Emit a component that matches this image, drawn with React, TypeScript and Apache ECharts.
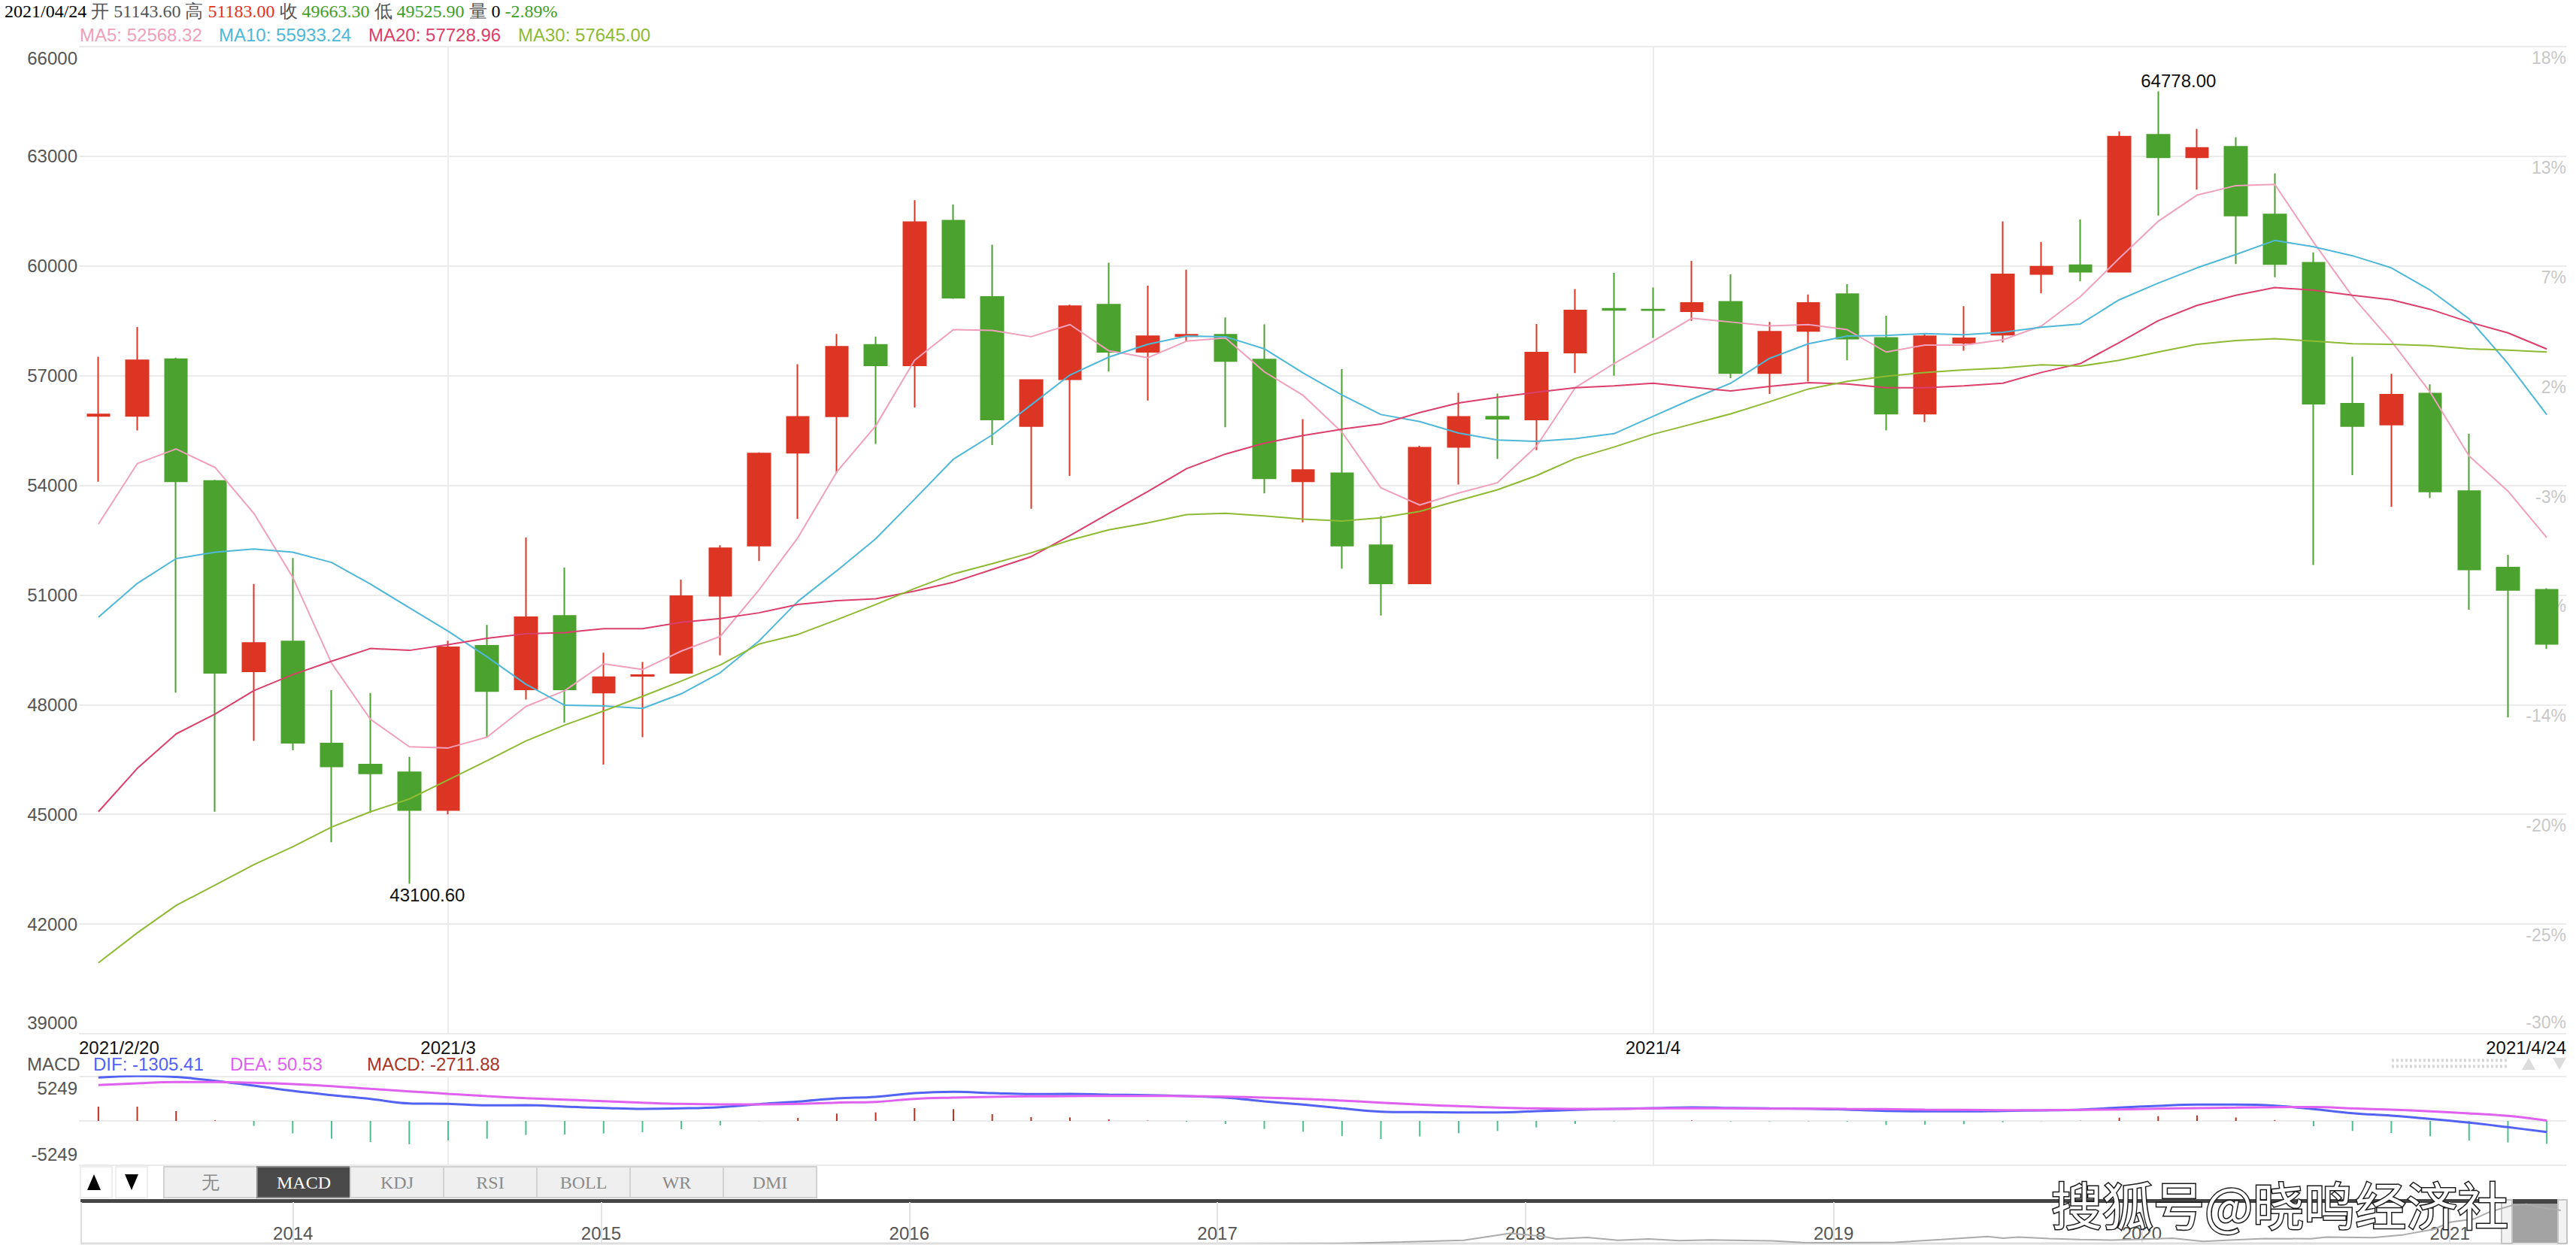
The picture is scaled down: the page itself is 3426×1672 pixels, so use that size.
import React, { useEffect, useRef } from 'react';
import * as echarts from 'echarts';

// [open, close, low, high]
const ohlc: number[][] = [
  [55900, 55940, 54100, 57520], [55900, 57420, 55500, 58330], [57450, 54110, 48330, 57490], [54120, 48870, 45070, 54150],
  [48910, 49690, 47010, 51300], [49730, 46960, 46750, 52010], [46940, 46310, 44240, 48400], [46360, 46120, 45040, 48320],
  [46150, 45120, 43100.6, 46570], [45120, 49570, 45000, 49750], [49610, 48370, 47100, 50180], [48420, 50390, 48140, 52570],
  [50430, 48420, 47510, 51750], [48330, 48750, 46360, 49420], [48790, 48810, 47110, 49170], [48870, 50970, 48850, 51420],
  [50980, 52280, 49350, 52360], [52350, 54870, 51930, 54900], [54890, 55870, 53080, 57310], [55890, 57790, 54330, 58140],
  [57840, 57280, 55130, 58070], [57280, 61200, 56130, 61800], [61240, 59130, 59100, 61680], [59150, 55800, 55100, 60580],
  [55620, 56880, 53360, 56900], [56900, 58900, 54260, 58940], [58940, 57650, 57110, 60090], [57650, 58080, 56320, 59460],
  [58080, 58120, 57940, 59900], [58120, 57400, 55590, 58590], [57440, 54190, 53780, 58400], [54110, 54420, 52990, 55810],
  [54330, 52350, 51720, 57180], [52360, 51320, 50440, 53160], [51320, 55030, 51300, 55080], [55050, 55870, 54020, 56530],
  [55880, 55820, 54720, 56510], [55800, 57630, 54960, 58410], [57630, 58780, 57070, 59370], [58830, 58800, 57000, 59810],
  [58810, 58790, 58030, 59410], [58760, 58990, 58500, 60140], [59020, 57070, 56930, 59770], [57070, 58200, 56500, 58470],
  [58220, 58990, 56840, 59220], [59230, 58010, 57420, 59500], [58030, 55960, 55500, 58640], [55960, 58080, 55730, 58140],
  [57900, 58020, 57680, 58900], [58120, 59770, 57910, 61220], [59780, 59980, 59250, 60660], [60020, 59840, 59580, 61270],
  [59840, 63540, 59830, 63680], [63590, 62970, 61380, 64778], [62970, 63230, 62090, 63750], [63260, 61380, 60050, 63520],
  [61410, 60050, 59690, 62530], [60090, 56230, 51820, 60370], [56230, 55620, 54280, 57520], [55660, 56480, 53410, 57050],
  [56510, 53830, 53650, 56760], [53840, 51700, 50600, 55410], [51750, 51140, 47650, 52100], [51143.6, 49663.3, 49525.9, 51183],
];

const ma5 = [52937, 54594, 54995, 54490, 53234, 51490, 49136, 47601, 46851, 46816, 47113, 47950, 48386, 49118, 48961, 49467,
  49868, 51141, 52571, 54367, 55623, 57419, 58256, 58239, 58065, 58396, 57681, 57489, 57943, 58030, 57106, 56460,
  55450, 53932, 53461, 53792, 54071, 55065, 56670, 57332, 57943, 58571, 58466, 58361, 58396, 58256, 57646, 57838,
  57838, 57978, 58361, 59164, 60210, 61221, 61937, 62198, 62233, 60646, 59164, 57943, 56547, 54803, 53844, 52568.32];
const ma10 = [50391, 51316, 51996, 52170, 52257, 52170, 51891, 51298, 50653, 50008, 49310, 48560, 47985, 47967, 47898, 48299,
  48874, 49746, 50827, 51664, 52536, 53618, 54716, 55379, 56199, 57018, 57507, 57856, 58082, 58065, 57734, 57071,
  56470, 55937, 55745, 55431, 55239, 55204, 55274, 55414, 55885, 56356, 56792, 57472, 57873, 58082, 58100, 58152,
  58117, 58187, 58326, 58413, 59076, 59530, 59948, 60315, 60698, 60524, 60280, 59948, 59338, 58553, 57332, 55933.24];
const ma20 = [45072, 46258, 47200, 47740, 48386, 48822, 49188, 49537, 49485, 49642, 49816, 49938, 49973, 50077, 50077, 50252,
  50356, 50513, 50740, 50845, 50897, 51106, 51350, 51699, 52048, 52624, 53234, 53827, 54455, 54856, 55152, 55362,
  55536, 55675, 55989, 56251, 56408, 56547, 56670, 56722, 56792, 56687, 56582, 56705, 56809, 56774, 56670, 56670,
  56722, 56792, 57088, 57332, 57908, 58501, 58920, 59199, 59408, 59338, 59199, 59076, 58815, 58466, 58170, 57728.96];
const ma30 = [40939, 41758, 42508, 43066, 43624, 44113, 44653, 45072, 45421, 45944, 46467, 47008, 47444, 47827, 48229, 48648,
  49083, 49659, 49921, 50322, 50740, 51176, 51577, 51856, 52153, 52501, 52781, 52972, 53199, 53234, 53164, 53077,
  53025, 53112, 53286, 53583, 53879, 54263, 54734, 55048, 55397, 55675, 55955, 56286, 56635, 56844, 56983, 57088,
  57158, 57210, 57297, 57262, 57419, 57646, 57856, 57960, 58013, 57943, 57873, 57856, 57821, 57734, 57699, 57645.00];

const dif = [5135, 5313, 5200, 4747, 4183, 3560, 3055, 2610, 2077, 2017, 1840, 1869, 1691, 1542, 1424, 1483,
  1632, 1988, 2284, 2670, 2848, 3293, 3440, 3293, 3174, 3204, 3115, 3055, 2937, 2759, 2314, 1928,
  1483, 1098, 1038, 1009, 1009, 1157, 1305, 1424, 1513, 1610, 1542, 1483, 1453, 1335, 1187, 1127,
  1127, 1187, 1246, 1335, 1572, 1780, 1928, 1928, 1810, 1400, 920, 623, 237, -207, -742, -1305.41];
const dea = [4245, 4450, 4600, 4600, 4510, 4361, 4124, 3798, 3500, 3204, 2937, 2700, 2522, 2344, 2166, 2017,
  1958, 1958, 2017, 2166, 2255, 2610, 2759, 2848, 2907, 2937, 2966, 2966, 2937, 2877, 2759, 2610,
  2403, 2166, 1928, 1750, 1572, 1483, 1424, 1424, 1483, 1483, 1483, 1453, 1453, 1424, 1394, 1335,
  1305, 1276, 1276, 1305, 1365, 1453, 1513, 1572, 1632, 1650, 1483, 1335, 1127, 890, 593, 50.53];
const macdHist = [1690, 1690, 1160, 80, -590, -1480, -2100, -2490, -2760, -2310, -2100, -1660, -1600, -1480, -1330, -980,
  -530, -30, 360, 860, 1010, 1510, 1390, 800, 445, 415, 180, 40, -90, -356, -950, -1276,
  -1780, -2136, -1840, -1453, -1187, -772, -356, -50, 20, 60, -60, -50, -40, -90, -475, -445,
  -390, -150, -30, 30, 385, 563, 653, 415, 100, -623, -1187, -1424, -1810, -2314, -2550, -2711.88];

const pctLabels = ['18%', '13%', '7%', '2%', '-3%', '-9%', '-14%', '-20%', '-25%', '-30%'];
const xLabels = ['2021/2/20', '2021/3', '2021/4', '2021/4/24'];
const xLabelPos = [-0.5, 9, 40, 63.5];
const gridMarkIdx = [9, 40];
const macdRange = 5249;
const navYears = [2014, 2015, 2016, 2017, 2018, 2019, 2020, 2021];
const navX = [2013.3, 2013.9, 2014.5, 2015.0, 2016.0, 2016.9, 2017.4, 2017.6, 2017.8, 2017.95, 2018.05, 2018.1, 2018.2, 2018.3,
  2018.4, 2018.5, 2018.6, 2018.8, 2018.9, 2019.0, 2019.2, 2019.35, 2019.5, 2019.55, 2019.6, 2019.7, 2019.8, 2019.9,
  2020.0, 2020.1, 2020.2, 2020.3, 2020.4, 2020.55, 2020.6, 2020.75, 2020.85, 2020.95, 2021.0, 2021.08, 2021.13, 2021.2,
  2021.25, 2021.3, 2021.36];
const navY = [0.1, 1.0, 0.6, 0.3, 0.4, 0.9, 2.5, 4.5, 7, 17, 13, 9, 11, 7,
  9, 6.5, 7.5, 6.3, 3.8, 3.6, 4.1, 8, 12.5, 10, 11.5, 9.5, 8, 7.3,
  8.5, 10, 5.5, 7.5, 9.5, 9.2, 11.5, 10.8, 15, 23, 33, 38, 48, 57,
  59, 54, 50];
const tabs = ['无', 'MACD', 'KDJ', 'RSI', 'BOLL', 'WR', 'DMI'];
const activeTab = 1;
const lastDate = '2021/04/24';
const prevClose = ohlc[ohlc.length - 2][1];

const categories = ohlc.map((_, i) => String(i));

const SANS = 'Liberation Sans';
const SERIF = 'Liberation Serif';
const RED = '#dd3524';
const GREEN = '#4ba22e';
const C_MA5 = '#f0a0bb';
const C_MA10 = '#4fb8d8';
const C_MA20 = '#dc3f6c';
const C_MA30 = '#8fba34';
const C_DIF = '#5262f2';
const C_DEA = '#e060f0';
const C_MACD = '#a8342a';

function txt(x: number, y: number, text: string, fill: string, size = 24, family = SANS, align = 'left', extra: any = {}) {
  return {
    type: 'text', x, y, silent: true, ...extra,
    style: { text, fill, fontSize: size, fontFamily: family, align, textAlign: align, verticalAlign: 'middle', textVerticalAlign: 'middle' },
  };
}

export default function App() {
  const ref = useRef<HTMLDivElement>(null);
  useEffect(() => {
    document.body.style.margin = '0';
    document.body.style.overflow = 'hidden';
    const chart = echarts.init(ref.current!, null, { renderer: 'svg' });
    const last = ohlc[ohlc.length - 1];
    const pct = ((last[1] - prevClose) / prevClose) * 100;
    const rs = (fill: string) => ({ fill, color: fill, fontSize: 24, fontFamily: SERIF });
    const headerText = `{k|${lastDate}} {g|开 ${last[0].toFixed(2)} 高} {r|${last[3].toFixed(2)}} {g|收} {gr|${last[1].toFixed(2)}} {g|低} {gr|${last[2].toFixed(2)}} {g|量} {k|0} {gr|${pct.toFixed(2)}%}`;

    const graphics: any[] = [
      {
        type: 'text', x: 6, y: 15, silent: true,
        style: {
          text: headerText, fontSize: 24, fontFamily: SERIF, fill: '#555', verticalAlign: 'middle', textVerticalAlign: 'middle',
          rich: { k: rs('#000'), g: rs('#555'), r: rs('#e0321e'), gr: rs('#3f9f2a') },
        },
      },
      txt(106, 46, `MA5: ${ma5[ma5.length - 1].toFixed(2)}`, C_MA5),
      txt(291, 46, `MA10: ${ma10[ma10.length - 1].toFixed(2)}`, C_MA10),
      txt(490, 46, `MA20: ${ma20[ma20.length - 1].toFixed(2)}`, C_MA20),
      txt(689, 46, `MA30: ${ma30[ma30.length - 1].toFixed(2)}`, C_MA30),
      txt(36, 1415, 'MACD', '#555'),
      txt(124, 1415, `DIF: ${dif[dif.length - 1].toFixed(2)}`, C_DIF),
      txt(306, 1415, `DEA: ${dea[dea.length - 1].toFixed(2)}`, C_DEA),
      txt(488, 1415, `MACD: ${macdHist[macdHist.length - 1].toFixed(2)}`, C_MACD),
      // zoom dots + arrows top right of MACD header
      { type: 'line', silent: true, shape: { x1: 3181, y1: 1410.5, x2: 3335, y2: 1410.5 }, style: { stroke: '#d6d6d6', lineWidth: 4, lineDash: [3, 3] } },
      { type: 'line', silent: true, shape: { x1: 3181, y1: 1418.5, x2: 3335, y2: 1418.5 }, style: { stroke: '#d6d6d6', lineWidth: 4, lineDash: [3, 3] } },
      { type: 'polygon', silent: true, shape: { points: [[3354, 1423], [3372, 1423], [3363, 1407]] }, style: { fill: '#dcdcdc' } },
      { type: 'polygon', silent: true, shape: { points: [[3395, 1407], [3413, 1407], [3404, 1423]] }, style: { fill: '#dcdcdc' } },
      // up/down buttons
      { type: 'rect', silent: true, shape: { x: 107, y: 1552, width: 42, height: 41 }, style: { fill: '#fff', stroke: '#eeeeee', lineWidth: 2 } },
      { type: 'rect', silent: true, shape: { x: 154, y: 1552, width: 42, height: 41 }, style: { fill: '#fff', stroke: '#eeeeee', lineWidth: 2 } },
      { type: 'polygon', silent: true, shape: { points: [[116, 1583], [134, 1583], [125, 1562]] }, style: { fill: '#000' } },
      { type: 'polygon', silent: true, shape: { points: [[166, 1562], [184, 1562], [175, 1583]] }, style: { fill: '#000' } },
      // dark bar
      { type: 'rect', silent: true, shape: { x: 107, y: 1595, width: 3306, height: 5 }, style: { fill: '#454545' } },
      // navigator border
      { type: 'line', silent: true, shape: { x1: 108, y1: 1599, x2: 108, y2: 1654 }, style: { stroke: '#dedede', lineWidth: 2 } },
      { type: 'line', silent: true, shape: { x1: 107, y1: 1654, x2: 3413, y2: 1654 }, style: { stroke: '#dedede', lineWidth: 3 } },
      // navigator handle
      { type: 'rect', silent: true, z: 1, shape: { x: 3341, y: 1599, width: 61, height: 54 }, style: { fill: '#a3a3a3' } },
      { type: 'rect', silent: true, z: 1, shape: { x: 3341, y: 1598, width: 61, height: 3 }, style: { fill: '#444' } },
      { type: 'rect', silent: true, z: 1, shape: { x: 3327, y: 1596, width: 14, height: 58 }, style: { fill: '#f2f2f2', stroke: '#c4c4c4', lineWidth: 2 } },
      { type: 'rect', silent: true, z: 1, shape: { x: 3402, y: 1596, width: 12, height: 58 }, style: { fill: '#f2f2f2', stroke: '#c4c4c4', lineWidth: 2 } },
      // watermark
      {
        type: 'text', x: 2728, y: 1600, z: 100, silent: true,
        style: {
          text: '搜狐号@晓鸣经济社', fontSize: 68, fontFamily: 'Noto Sans CJK SC', fill: '#ffffff', stroke: '#1a1a1a', lineWidth: 3,
          verticalAlign: 'middle', textVerticalAlign: 'middle', shadowColor: 'rgba(0,0,0,0.85)', shadowOffsetX: -3, shadowOffsetY: 3, shadowBlur: 0,
        },
      },
    ];
    tabs.forEach((t, i) => {
      const x = 218 + i * 124;
      const active = i === activeTab;
      graphics.push({ type: 'rect', silent: true, shape: { x, y: 1552, width: 124, height: 41 }, style: { fill: active ? '#4a4a4a' : '#efefef', stroke: active ? '#8a8a8a' : '#d2d2d2', lineWidth: 2 } });
      graphics.push(txt(x + 62, 1573, t, active ? '#ffffff' : '#8a8a8a', 24, SERIF, 'center'));
    });

    const hiddenLine = { show: false };
    const gridLine = { show: true, lineStyle: { color: '#ebebeb', width: 2 } };

    const option: any = {
      animation: false,
      backgroundColor: '#ffffff',
      textStyle: { fontFamily: SANS },
      grid: [
        { left: 105, right: 13, top: 62, height: 1313 },
        { left: 105, right: 13, top: 1432, height: 118 },
        { left: 107, right: 13, top: 1599, height: 54 },
      ],
      xAxis: [
        { type: 'category', gridIndex: 0, data: categories, boundaryGap: true, show: false, position: 'top' },
        {
          type: 'value', gridIndex: 0, min: -0.5, max: 63.5, position: 'bottom',
          axisLine: hiddenLine, axisTick: { show: false, customValues: gridMarkIdx }, splitLine: gridLine,
          axisLabel: {
            customValues: xLabelPos, formatter: (v: number) => { const k = xLabelPos.indexOf(v); return k >= 0 ? xLabels[k] : ''; },
            color: '#111', fontSize: 24, fontFamily: SANS, margin: 6, alignMinLabel: 'left', alignMaxLabel: 'right',
          },
        },
        { type: 'category', gridIndex: 1, data: categories, boundaryGap: true, show: false, position: 'top' },
        {
          type: 'value', gridIndex: 1, min: -0.5, max: 63.5, position: 'bottom',
          axisLine: hiddenLine, axisTick: { show: false, customValues: gridMarkIdx }, axisLabel: { show: false }, splitLine: gridLine,
        },
        {
          type: 'value', gridIndex: 2, min: 2013.31, max: 2021.378, position: 'bottom',
          axisLine: hiddenLine, axisTick: { show: false, customValues: navYears },
          splitLine: { show: true, lineStyle: { color: '#e2e2e2', width: 2 } },
          axisLabel: { customValues: navYears, inside: true, margin: 1, color: '#555', fontSize: 24, fontFamily: SANS, formatter: (v: number) => String(v) },
        },
      ],
      yAxis: [
        {
          type: 'value', gridIndex: 0, min: 39000, max: 66000, interval: 3000, position: 'left',
          axisLine: hiddenLine, axisTick: hiddenLine, splitLine: gridLine,
          axisLabel: {
            color: '#555', fontSize: 24, fontFamily: SANS, margin: 2, lineHeight: 30, verticalAlignMinLabel: 'bottom', verticalAlignMaxLabel: 'top',
            formatter: (v: number) => String(v),
          },
        },
        {
          type: 'value', gridIndex: 0, min: 39000, max: 66000, interval: 3000, position: 'right',
          axisLine: hiddenLine, axisTick: hiddenLine, splitLine: hiddenLine,
          axisLabel: {
            inside: true, margin: 0, color: '#c8c8c8', fontSize: 23, fontFamily: SANS, verticalAlign: 'top', lineHeight: 30,
            verticalAlignMinLabel: 'bottom', verticalAlignMaxLabel: 'top',
            formatter: (v: number) => pctLabels[Math.round((66000 - v) / 3000)] ?? '',
          },
        },
        {
          type: 'value', gridIndex: 1, min: -macdRange, max: macdRange, interval: macdRange, position: 'left',
          axisLine: hiddenLine, axisTick: hiddenLine, splitLine: gridLine,
          axisLabel: {
            color: '#555', fontSize: 24, fontFamily: SANS, margin: 2, lineHeight: 30, verticalAlignMinLabel: 'bottom', verticalAlignMaxLabel: 'top',
            formatter: (v: number) => (v === 0 ? '' : String(v)),
          },
        },
        { type: 'value', gridIndex: 2, min: 3.5, max: 62, show: false },
      ],
      series: [
        {
          type: 'candlestick', xAxisIndex: 0, yAxisIndex: 0, data: ohlc, barWidth: 30,
          itemStyle: { color: RED, color0: GREEN, borderColor: RED, borderColor0: GREEN, borderWidth: 2 },
          markPoint: {
            symbol: 'circle', symbolSize: 1, itemStyle: { color: 'rgba(0,0,0,0)' }, silent: true,
            label: { show: true, position: 'inside', color: '#111', fontSize: 24, fontFamily: SANS },
            data: [
              { coord: [categories[53], ohlc[53][3]], value: ohlc[53][3], label: { formatter: ohlc[53][3].toFixed(2), offset: [27, -14] } },
              { coord: [categories[8], ohlc[8][2]], value: ohlc[8][2], label: { formatter: ohlc[8][2].toFixed(2), offset: [24, 15] } },
            ],
          },
        },
        { type: 'line', name: 'MA5', xAxisIndex: 0, yAxisIndex: 0, data: ma5, symbol: 'none', lineStyle: { color: C_MA5, width: 2 } },
        { type: 'line', name: 'MA10', xAxisIndex: 0, yAxisIndex: 0, data: ma10, symbol: 'none', lineStyle: { color: C_MA10, width: 2 } },
        { type: 'line', name: 'MA20', xAxisIndex: 0, yAxisIndex: 0, data: ma20, symbol: 'none', lineStyle: { color: C_MA20, width: 2 } },
        { type: 'line', name: 'MA30', xAxisIndex: 0, yAxisIndex: 0, data: ma30, symbol: 'none', lineStyle: { color: C_MA30, width: 2 } },
        {
          type: 'bar', xAxisIndex: 2, yAxisIndex: 2, data: macdHist, barWidth: 2,
          itemStyle: { color: (p: any) => (p.value >= 0 ? '#b8321f' : '#4dbf8e') },
        },
        { type: 'line', name: 'DIF', xAxisIndex: 2, yAxisIndex: 2, data: dif, symbol: 'none', smooth: 0.4, lineStyle: { color: C_DIF, width: 3 } },
        { type: 'line', name: 'DEA', xAxisIndex: 2, yAxisIndex: 2, data: dea, symbol: 'none', smooth: 0.4, lineStyle: { color: C_DEA, width: 3 } },
        {
          type: 'line', xAxisIndex: 4, yAxisIndex: 3, data: navX.map((x, i) => [x, navY[i]]), symbol: 'none', clip: true,
          lineStyle: { color: '#ababab', width: 2 },
        },
      ],
      graphic: { elements: graphics },
    };
    chart.setOption(option);
    return () => chart.dispose();
  }, []);
  return <div ref={ref} style={{ width: 3426, height: 1672 }} />;
}
